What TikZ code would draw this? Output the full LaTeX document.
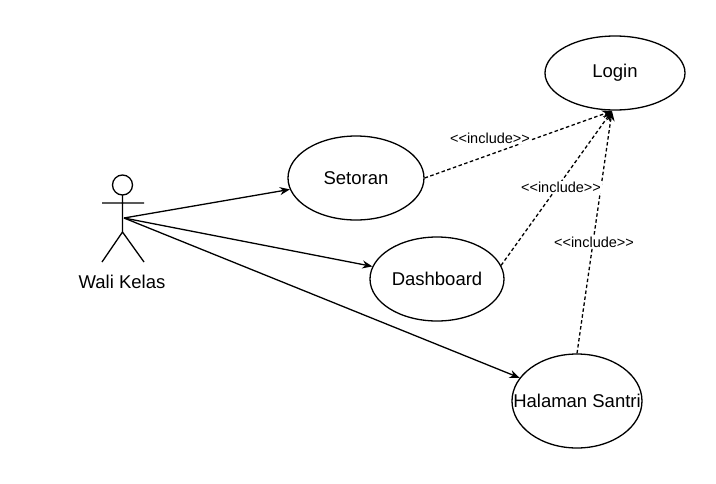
\documentclass[tikz,border=0pt]{standalone}
\usepackage{fontspec}
\setmainfont{Liberation Sans}
\usetikzlibrary{arrows.meta,shapes.geometric}
\begin{document}
\begin{tikzpicture}[x=1pt,y=-1pt,
  uc/.style={draw,ellipse,line width=1.3pt,inner sep=0pt},
  assoc/.style={line width=1.3pt,-{Stealth[length=10pt,width=8pt]}},
  incl/.style={line width=1.3pt,dash pattern=on 3.5pt off 2.5pt,-{Stealth[length=10pt,width=8pt]}},
  lbl/.style={font=\fontsize{14.5}{16}\selectfont,fill=white,inner sep=1pt},
  every node/.style={font=\fontsize{18.5}{20}\selectfont}]
\useasboundingbox (0,0) rectangle (716,483);
% actor
\draw[line width=1.3pt] (122.5,185) circle (10);
\draw[line width=1.3pt] (122.5,195) -- (122.5,232) (102,203) -- (144,203)
  (102,262) -- (122.5,232) -- (144,262);
\coordinate (act) at (124,218);
\node (wk) at (122,282) {Wali Kelas};
% use cases
\node[uc,minimum width=140pt,minimum height=74pt] (login) at (615,73) {Login};
\node[uc,minimum width=136pt,minimum height=84pt] (set) at (356,178) {Setoran};
\node[uc,minimum width=134pt,minimum height=84pt] (dash) at (437,279) {Dashboard};
\node[uc,inner xsep=-28pt,minimum width=130pt,minimum height=94pt] (hal) at (577,401) {Halaman Santri};
% associations
\draw[assoc] (act) -- (set);
\draw[assoc] (act) -- (dash);
\draw[assoc] (act) -- (hal);
% includes
\coordinate (lt) at (612,111);
\draw[incl] (set.east) -- (lt);
\draw[incl] (dash.12) -- (lt);
\draw[incl] (hal.north) -- (lt);
\node[lbl] at (490,138) {{<}{<}include{>}{>}};
\node[lbl] at (561,187) {{<}{<}include{>}{>}};
\node[lbl] at (594,242) {{<}{<}include{>}{>}};
\end{tikzpicture}
\end{document}
